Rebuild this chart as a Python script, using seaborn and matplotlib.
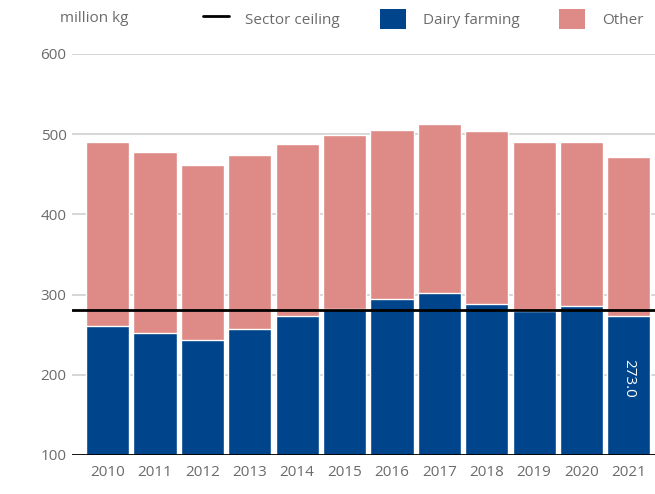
import pandas as pd
import matplotlib
matplotlib.use("Agg")
import matplotlib.pyplot as plt
import seaborn as sns
from matplotlib.lines import Line2D
from matplotlib.patches import Patch

years = ["2010", "2011", "2012", "2013", "2014", "2015",
         "2016", "2017", "2018", "2019", "2020", "2021"]
dairy = [261, 252, 243, 257, 273, 282, 294.5, 302, 288, 280, 286, 273.0]
other = [229, 226, 219, 217, 215, 217, 210.5, 211, 216, 210, 204, 199]
ceiling = 281.0

blue = "#00448B"
pink = "#DE8A86"
grey = "#6b6b6b"

df = pd.DataFrame({"year": years, "dairy": dairy, "other": other})
df["total"] = df["dairy"] + df["other"]

sns.set_theme(style="white")
plt.rcParams["font.family"] = ["Open Sans", "DejaVu Sans"]

fig = plt.figure(figsize=(6.55, 4.94), dpi=100)
ax = fig.add_axes([0.110, 0.079, 0.890, 0.812])

ax.set_axisbelow(True)
ax.yaxis.grid(True, color="#d0d0d0", linewidth=1.2)

sns.barplot(data=df, x="year", y="total", color=pink, width=0.91,
            saturation=1, ax=ax)
sns.barplot(data=df, x="year", y="dairy", color=blue, width=0.91,
            saturation=1, ax=ax)

ax.axhline(ceiling, color="black", linewidth=2, zorder=5)
ax.axhline(100, color="black", linewidth=2, zorder=5)

ax.set_ylim(100, 600)
ax.set_xlim(-0.75, 11.55)
ax.set_yticks([100, 200, 300, 400, 500, 600])
ax.set_xlabel("")
ax.set_ylabel("")
ax.tick_params(axis="both", colors=grey, labelsize=11, length=0)
ax.tick_params(axis="y", pad=4)
ax.tick_params(axis="x", pad=7)
for s in ax.spines.values():
    s.set_visible(False)

ax.text(11, 196, f"{dairy[-1]:.1f}", rotation=-90, color="white",
        ha="center", va="center", fontsize=11, zorder=6)

fig.text(0.092, 0.962, "million kg", color=grey, fontsize=11,
         ha="left", va="center")

handles = [
    Line2D([0], [0], color="black", linewidth=2),
    Patch(facecolor=blue, edgecolor="none"),
    Patch(facecolor=pink, edgecolor="none"),
]
labels = ["Sector ceiling", "Dairy farming", "Other"]
leg = fig.legend(handles, labels, loc="center left", ncol=3,
                 bbox_to_anchor=(0.30, 0.962), frameon=False, fontsize=11,
                 handlelength=1.7, handleheight=1.6, columnspacing=2.6,
                 handletextpad=1.1, borderaxespad=0)
for t in leg.get_texts():
    t.set_color(grey)

fig.savefig("out.png", dpi=100)
